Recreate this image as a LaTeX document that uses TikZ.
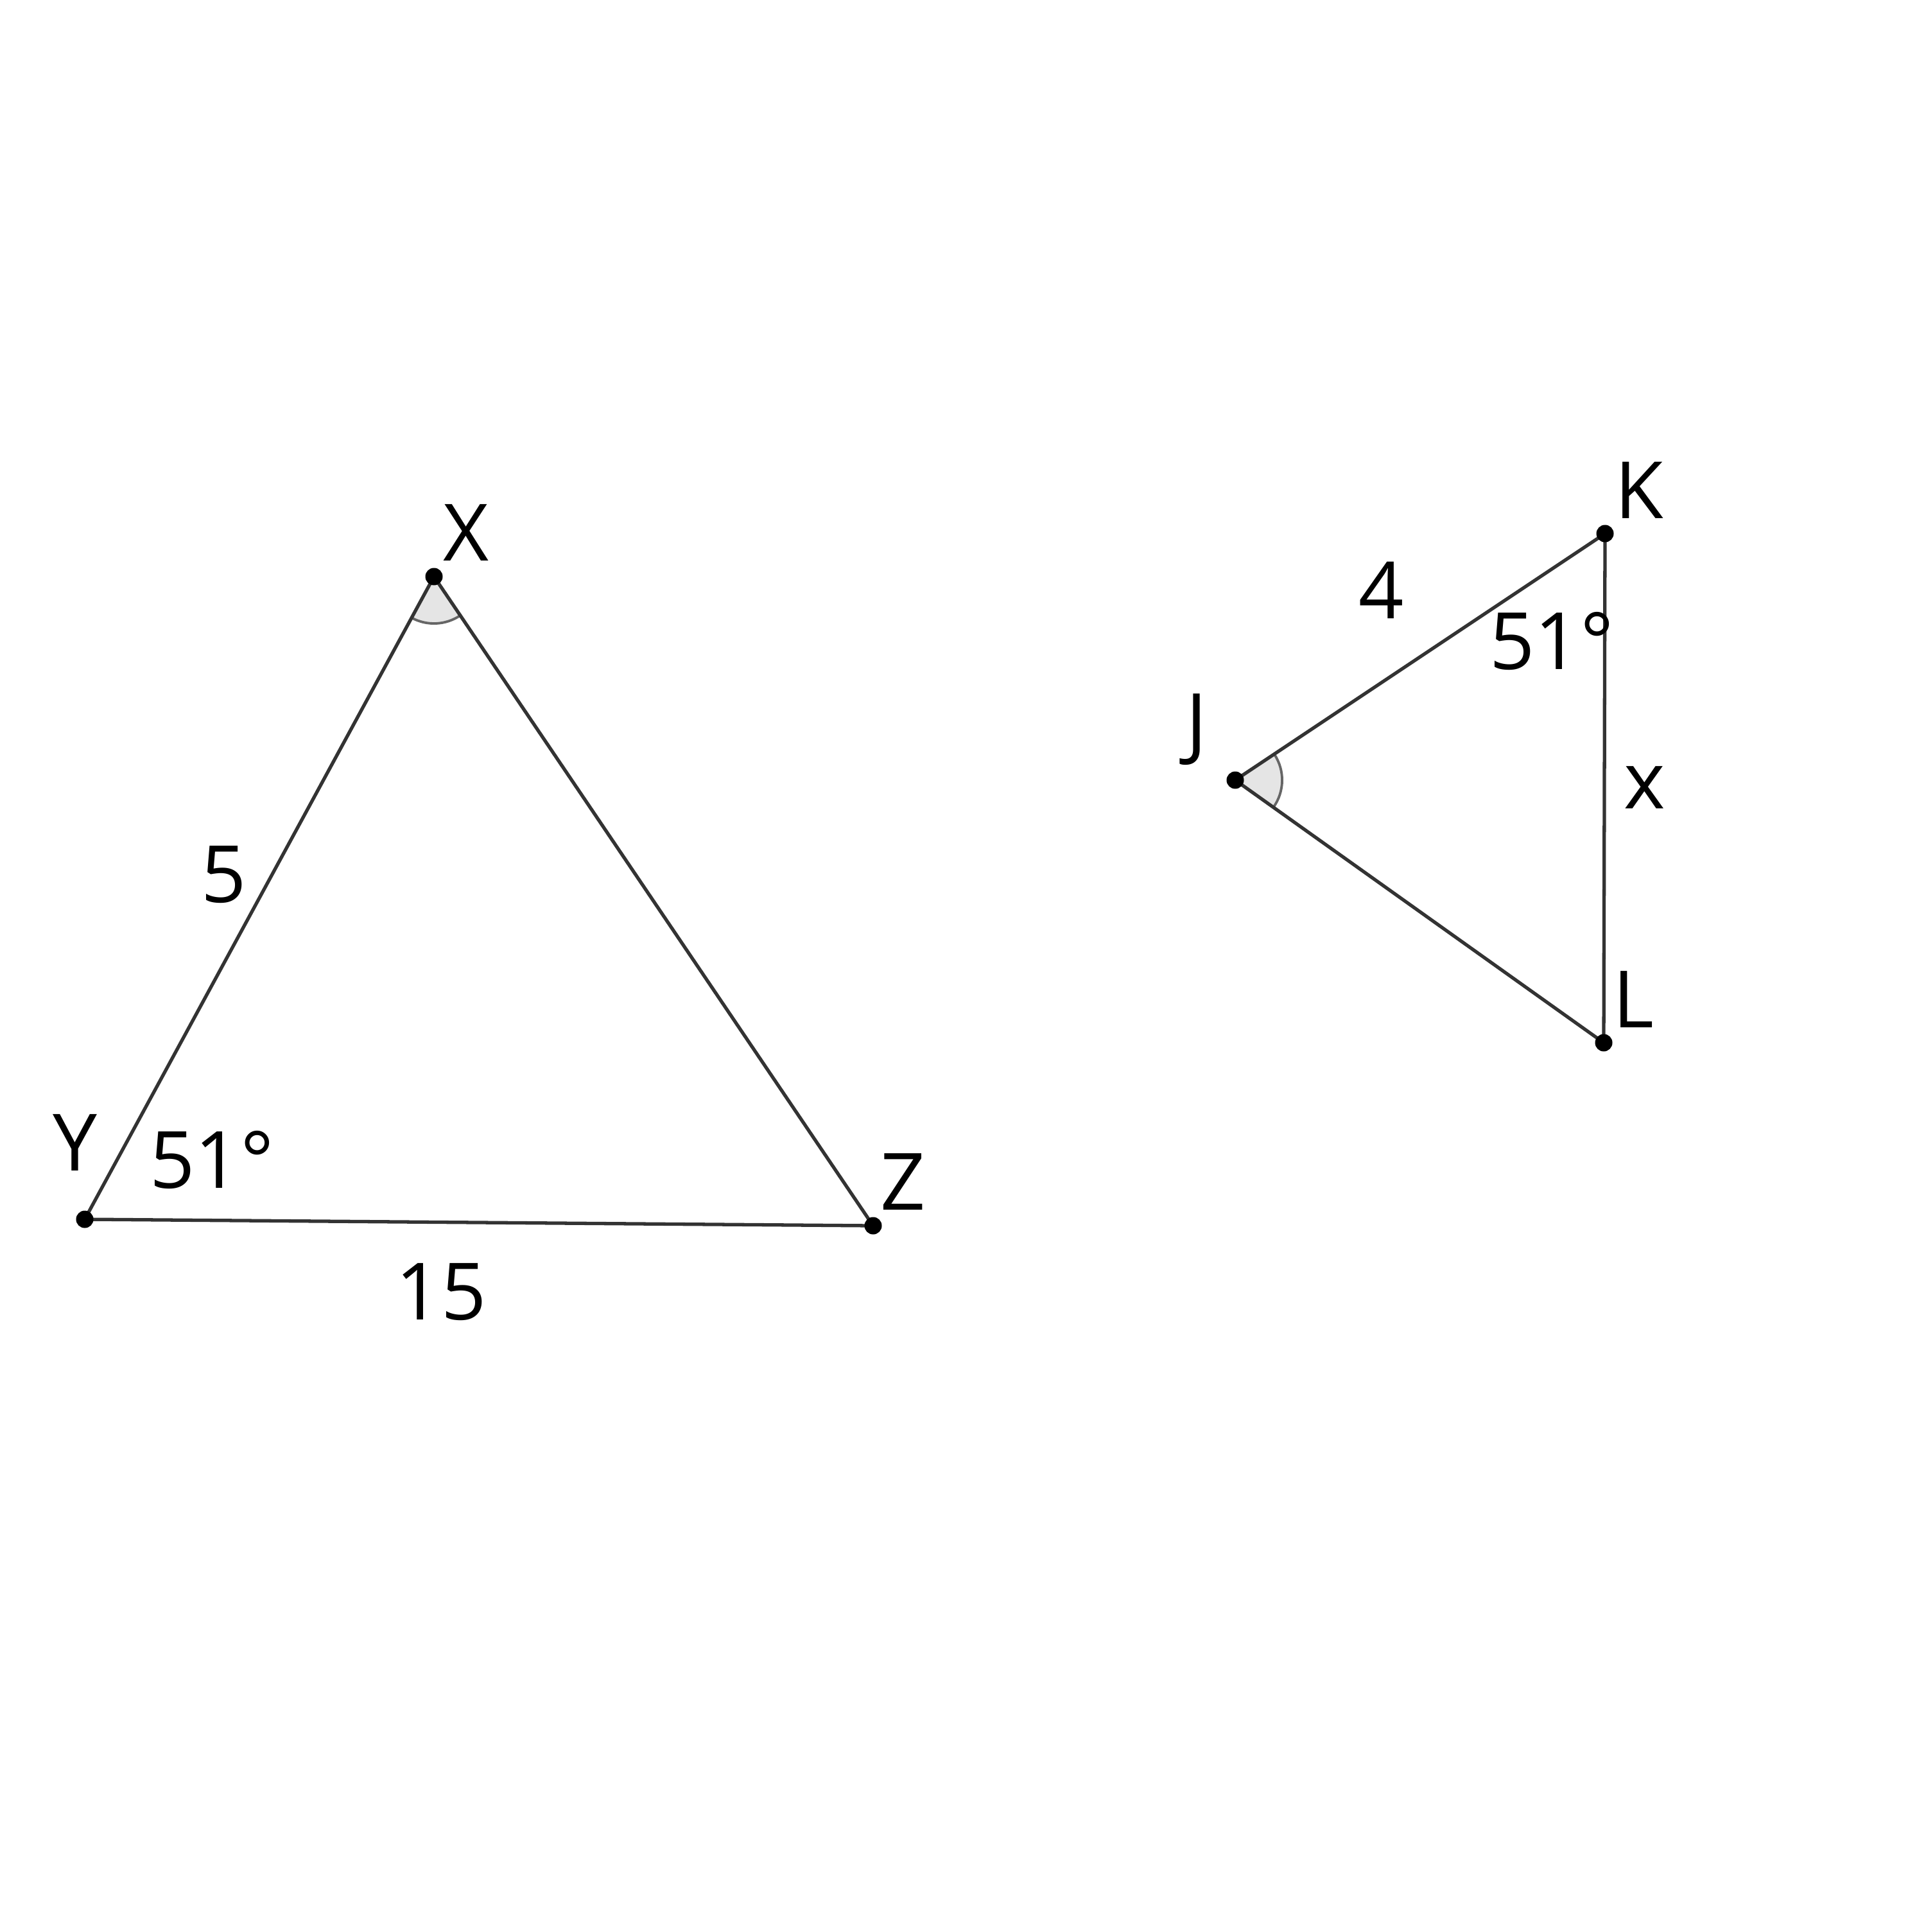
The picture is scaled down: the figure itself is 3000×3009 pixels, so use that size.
\documentclass[tikz,border=0pt]{standalone}
\usepackage{fontspec}
\setmainfont{Open Sans}
\usetikzlibrary{angles}
\begin{document}
\begin{tikzpicture}[x=0.01cm, y=-0.01cm]
  \tikzstyle{seg} = [draw=black!80, line width=1.5pt]
  \tikzstyle{pt} = [circle, fill=black, inner sep=0pt, minimum size=0.27cm]
  \tikzstyle{lab} = [anchor=base, inner sep=0pt, font=\fontsize{35pt}{40pt}\selectfont]
  \tikzstyle{anglemark} = [draw=black!60, line width=1.1pt, fill=black!10, angle radius=0.73cm]
  \useasboundingbox (0,0) rectangle (3000,3009);

  % Ecken
  \coordinate (X) at (676,898);
  \coordinate (Y) at (132,1899);
  \coordinate (Z) at (1360,1909);
  \coordinate (J) at (1924,1215);
  \coordinate (K) at (2500,831);
  \coordinate (L) at (2498,1624);

  % Winkel
  \pic[anglemark] {angle = Y--X--Z};
  \pic[anglemark] {angle = L--J--K};

  % Seiten
  \draw[seg] (X) -- (Y);
  \draw[seg] (Y) -- (Z);
  \draw[seg] (Z) -- (X);
  \draw[seg] (J) -- (K);
  \draw[seg] (K) -- (L);
  \draw[seg] (L) -- (J);

  % Punkte
  \foreach \p in {X,Y,Z,J,K,L}
    \node[pt] (d\p) at (\p) {};

  % Beschriftungen
  \node[lab] (lX) at (726,873) {X};
  \node[lab] (lY) at (117,1823) {Y};
  \node[lab] (lZ) at (1407,1884) {Z};
  \node[lab] (lJ) at (1864,1168) {J};
  \node[lab] (lK) at (2553,807) {K};
  \node[lab] (lL) at (2544,1600) {L};
  \node[lab] (aY) at (330,1850) {51°};
  \node[lab] (aK) at (2417,1042) {51°};
  \node[lab] (sXY) at (349,1405) {5};
  \node[lab] (sYZ) at (687,2055) {15};
  \node[lab] (sJK) at (2152,963) {4};
  \node[lab] (sKL) at (2562,1259) {x};
\end{tikzpicture}
\end{document}
